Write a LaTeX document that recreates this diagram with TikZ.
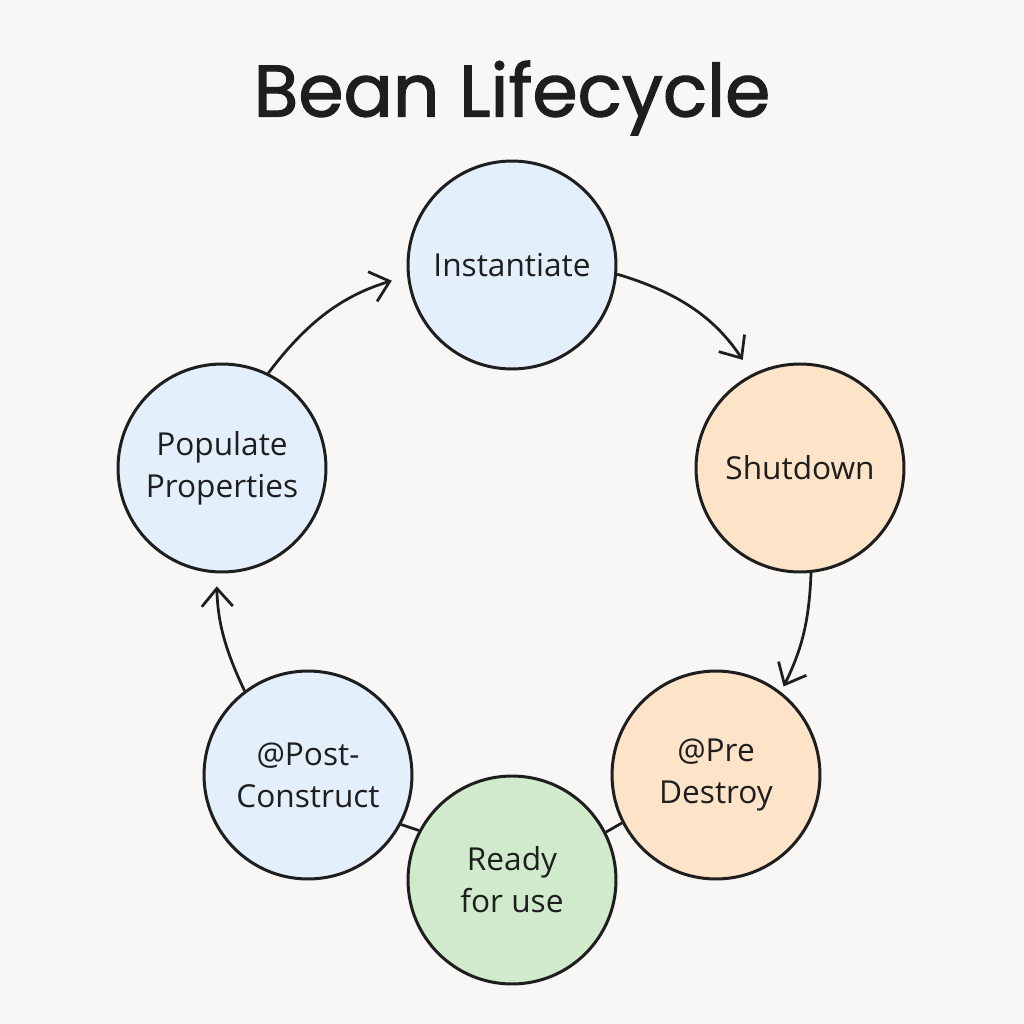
\documentclass[tikz,border=0pt]{standalone}
\usepackage{fontspec}
\setmainfont{Open Sans}
\newfontfamily\titlefont[FakeBold=1.6]{Poppins}
\usetikzlibrary{arrows.meta}
\definecolor{bg}{HTML}{F8F7F5}
\definecolor{ink}{HTML}{1E1E1E}
\definecolor{cblue}{HTML}{E3F0FC}
\definecolor{corange}{HTML}{FDE3C8}
\definecolor{cgreen}{HTML}{D0EBCB}
\tikzset{
  stage/.style={circle, draw=ink, line width=0.06cm, minimum size=4.16cm, inner sep=0pt,
    align=center, font=\fontsize{18}{24}\selectfont, text=ink},
  flow/.style={draw=ink, line width=0.055cm, -{Straight Barb[length=0.36cm,width=0.62cm,line width=0.055cm]}},
  link/.style={draw=ink, line width=0.055cm}
}
\begin{document}
\begin{tikzpicture}[x=0.02cm,y=-0.02cm]
\useasboundingbox[fill=bg] (0,0) rectangle (1024,1024);
\node[font=\titlefont\fontsize{41.5}{48}\selectfont, text=ink] (title) at (512,98) {Bean Lifecycle};
\node[stage, fill=cblue] (inst) at (512,265) {Instantiate};
\node[stage, fill=corange] (shut) at (800,468) {Shutdown};
\node[stage, fill=corange] (pre) at (716,775) {@Pre\\Destroy};
\node[stage, fill=cgreen] (ready) at (512,880) {Ready\\for use};
\node[stage, fill=cblue] (post) at (308,775) {@Post-\\Construct};
\node[stage, fill=cblue] (pop) at (222,468) {Populate\\Properties};
\draw[flow, shorten >=0.34cm] (inst.-5) to[bend left=20] (shut.117);
\draw[flow, shorten >=0.12cm] (shut.-84) to[bend left=12] (pre.52);
\draw[link] (pre.207) -- (ready.27);
\draw[link] (ready.152) -- (post.-28);
\draw[flow, shorten >=0.26cm] (post.127) to[bend left=12] (pop.-93);
\draw[flow, shorten >=0.32cm] (pop.64) to[bend left=18] (inst.186);
\end{tikzpicture}
\end{document}
